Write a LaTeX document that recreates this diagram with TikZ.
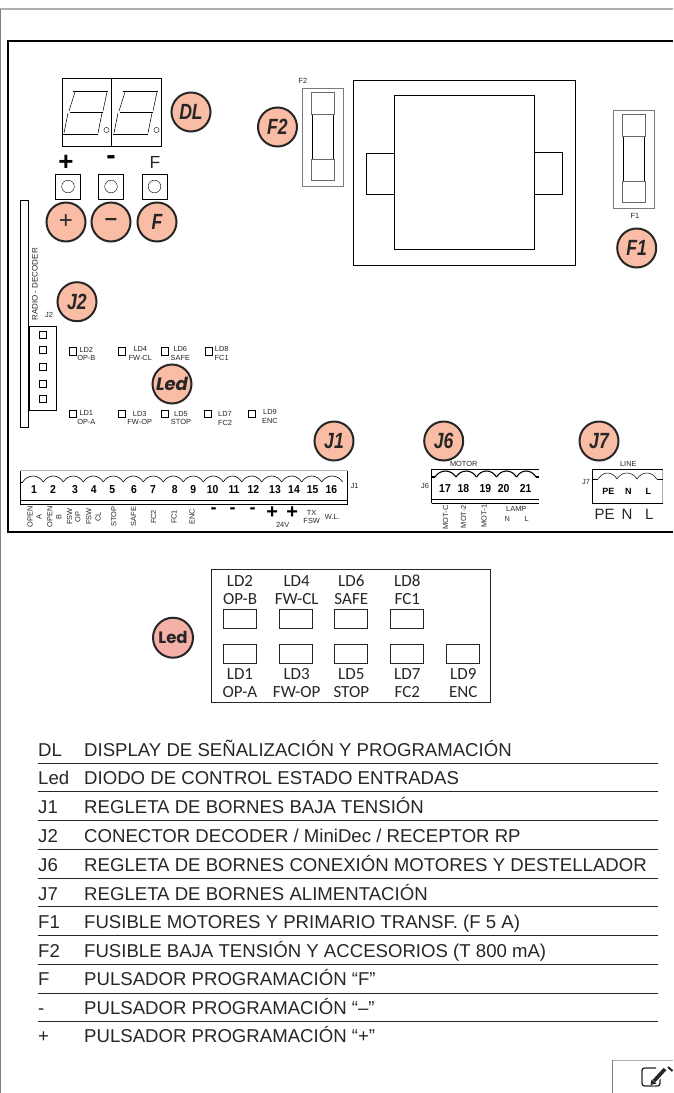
\documentclass[tikz,border=0pt]{standalone}
\usepackage{fontspec}
\usepackage{graphicx}
\setmainfont{Liberation Sans}
\newfontfamily\ledfont{Carlito}
\newfontfamily\badgefont{Poppins}
\definecolor{badge}{HTML}{F9BDA5}
\definecolor{badgeled}{HTML}{F5B0A8}
\definecolor{frameline}{HTML}{B0B0B0}
\definecolor{inkline}{HTML}{262626}
\tikzset{
  badgenode/.style={circle,draw=inkline,line width=2pt,fill=badge,minimum size=39pt,inner sep=0pt,text=inkline,font=\fontsize{22}{22}\selectfont\bfseries\itshape},
  tiny/.style={inner sep=0pt,text=inkline,text height=5.4pt,text depth=0pt,font=\fontsize{7.4}{7.4}\selectfont},
  pinnum/.style={inner sep=0pt,text=black,text height=8pt,text depth=0pt,font=\fontsize{11.5}{11.5}\selectfont\bfseries},
  signtxt/.style={inner sep=0pt,text=black},
  ledtxt/.style={inner sep=0pt,text=inkline,text height=11.5pt,text depth=0pt,font=\ledfont\fontsize{17}{17}\selectfont},
  rowtxt/.style={inner sep=0pt,anchor=base west,text=inkline,font=\fontsize{18.6}{18.6}\selectfont},
}
\newcommand{\badge}[4]{
\node[badgenode] (#1) at (#2,#3) {\scalebox{.8}[1]{#4}};
}
\newcommand{\lbl}[4]{
\node[tiny] (#1) at (#2,#3) {#4};
}
\newcommand{\vlbl}[4]{
\node[tiny,rotate=90] (#1) at (#2,#3) {#4};
}
\newcommand{\num}[3]{
\node[pinnum] (n#1) at (#2,#3) {\scalebox{.9}[1]{#1}};
}
\newcommand{\scal}[3]{
\draw (#1,#2) .. controls (#1+#3/4,#2-8) and (#1+3*#3/4,#2-8) .. (#1+#3,#2);
}
\newcommand{\fuse}[2]{
\draw[frameline!70!black,line width=.9pt] (#1,#2) rectangle (#1+41,#2+98);
\draw[line width=1pt] (#1+10,#2+26) rectangle (#1+31,#2+71.5);
\draw[frameline!60!black,line width=.8pt,fill=white] (#1+9,#2+4.5) rectangle (#1+32,#2+26);
\draw[frameline!60!black,line width=.8pt,fill=white] (#1+9,#2+71.5) rectangle (#1+32,#2+92.5);
}
\newcommand{\btn}[2]{
\draw[line width=.7pt] (#1-12.5,#2+12.5)--(#1-12.5,#2-12)--(#1+12.5,#2-12)--(#1+12.5,#2+12.5);
\draw[line width=.7pt] (#1-13,#2+12.5)--(#1+13,#2+12.5);
\draw[line width=.4pt] (#1,#2) circle (6.3);
}
\newcommand{\segs}[1]{
\draw[line width=.7pt] (#1+10,91)--(#1+45,91) (#1+7,112)--(#1+40,112) (#1,134)--(#1+35,134);
\draw[line width=.5pt] (#1+12,92)--(#1+6,111) (#1+5,113)--(#1+1,133) (#1+44,92)--(#1+40,111) (#1+39,113)--(#1+35,133);
\draw[line width=.4pt] (#1+43.5,130) circle (2.6);
}
\newcommand{\ledbox}[2]{
\draw[line width=.7pt,draw=inkline] (#1,#2) rectangle (#1+33,#2+19);
}
\newcommand{\ledpair}[5]{
\node[ledtxt] (#1a) at (#2,#3) {#4};
\node[ledtxt] (#1b) at (#2,#3+18.3) {#5};
}
\newcommand{\row}[4]{
\node[rowtxt] (#1k) at (38,#2) {#3};
\node[rowtxt] (#1t) at (84,#2) {#4};
}
\newcommand{\rowline}[1]{
\draw[line width=.8pt,inkline] (38,#1)--(658,#1);
}

\begin{document}
\begin{tikzpicture}[x=1pt,y=-1pt]
\useasboundingbox (0,0) rectangle (673,1093);

\draw[frameline,line width=1.3pt] (0,9)--(673,9);
\draw[gray,line width=1.4pt] (.7,9)--(.7,1093);
\draw[line width=2pt] (673,40.5)--(8,40.5)--(8,531.5)--(673,531.5);

\draw[line width=.8pt] (62.5,78.5) rectangle (161.5,146);
\draw[line width=.7pt] (111.5,78.5)--(111.5,146);
\segs{63}
\segs{113}

\node[signtxt,font=\fontsize{26}{26}\selectfont\bfseries] (plus) at (66,163) {+};
\node[signtxt,font=\fontsize{28}{28}\selectfont\bfseries] (minus) at (111,160) {-};
\node[signtxt,text=inkline,font=\fontsize{17.5}{17.5}\selectfont] (eff) at (155,162) {F};
\btn{68}{186.5}
\btn{111}{186.5}
\btn{154.5}{186.5}

\node[badgenode,font=\fontsize{24}{24}\selectfont] (bplus) at (66,222) {+};
\node[badgenode,font=\fontsize{22}{22}\selectfont\bfseries] (bminus) at (111,222) {–};
\badge{bf}{157}{222}{F}
\badge{dl}{191}{112}{DL}
\badge{ftwo}{277.5}{127}{F2}
\badge{jtwo}{77}{301.7}{J2}
\node[badgenode,font=\badgefont\fontsize{18}{18}\selectfont\bfseries\itshape] (led) at (172,384) {Led};
\badge{jone}{334}{441}{J1}
\badge{jsix}{443.7}{441}{J6}
\badge{jseven}{599}{441}{J7}
\badge{fone}{636.7}{248}{F1}

\fuse{302.5}{88}
\fuse{613.3}{110}
\lbl{lfone}{635}{216}{F1}
\lbl{lftwo}{303}{80.5}{F2}

\draw[line width=.9pt] (353.3,80.7) rectangle (575.3,265.3);
\draw[line width=.9pt] (394.3,95.3) rectangle (534.3,249.3);
\draw[line width=.9pt] (394.3,153.3)--(366.3,153.3)--(366.3,194.3)--(394.3,194.3);
\draw[line width=.9pt] (534.3,152.3)--(562.3,152.3)--(562.3,194.3)--(534.3,194.3);

\draw[line width=.8pt] (20,427.3)--(20,200.7)--(28.7,200.7)--(28.7,427.3);
\draw[line width=.8pt] (20,427.3)--(28.7,427.3);
\node[tiny,rotate=90,font=\fontsize{8}{8}\selectfont] (radio) at (35,284.4) {RADIO - DECODER};
\lbl{ljtwo}{49}{315}{J2}
\draw[line width=.8pt] (29.7,326.7) rectangle (56.3,410.3);
\draw[line width=.8pt] (39.5,331.5) rectangle (46.5,338.5);
\draw[line width=.8pt] (39.5,346.5) rectangle (46.5,353.5);
\draw[line width=.8pt] (39.5,363.5) rectangle (46.5,370.5);
\draw[line width=.8pt] (39.5,380.5) rectangle (46.5,387.5);
\draw[line width=.8pt] (39.5,395.8) rectangle (46.5,402.8);

\draw[line width=.8pt] (69,347.5) rectangle (76.5,355);
\draw[line width=.8pt] (118,347.5) rectangle (125.5,355);
\draw[line width=.8pt] (161,347.5) rectangle (168.5,355);
\draw[line width=.8pt] (205.3,347.5) rectangle (212.8,355);
\draw[line width=.8pt] (69,410) rectangle (76.5,417.5);
\draw[line width=.8pt] (118,410) rectangle (125.5,417.5);
\draw[line width=.8pt] (161,410) rectangle (168.5,417.5);
\draw[line width=.8pt] (204.3,410) rectangle (211.8,417.5);
\draw[line width=.8pt] (248.3,410) rectangle (255.8,417.5);

\lbl{ldtwo}{86.3}{349.3}{LD2}
\lbl{opb}{86.3}{358}{OP-B}
\lbl{ldfour}{140.3}{348.3}{LD4}
\lbl{fwcl}{140.3}{358}{FW-CL}
\lbl{ldsix}{180.3}{349}{LD6}
\lbl{safe}{180.3}{358}{SAFE}
\lbl{ldeight}{221.7}{348.3}{LD8}
\lbl{fcone}{221.7}{357.3}{FC1}
\lbl{ldone}{86.3}{412.3}{LD1}
\lbl{opa}{86.3}{421.3}{OP-A}
\lbl{ldthree}{139.7}{413.3}{LD3}
\lbl{fwop}{139.7}{422}{FW-OP}
\lbl{ldfive}{181}{413.3}{LD5}
\lbl{stop}{181}{421.7}{STOP}
\lbl{ldseven}{225}{413.3}{LD7}
\lbl{fctwo}{225}{422.3}{FC2}
\lbl{ldnine}{270}{412}{LD9}
\lbl{enc}{270}{421}{ENC}

\draw[frameline,line width=1.2pt] (20.7,470.7)--(347.3,470.7);
\draw[line width=.7pt] (20.7,470.7)--(20.7,504.3)--(347.3,504.3)--(347.3,470.7);
\draw[line width=.7pt] (20.7,500)--(347.3,500);
\begin{scope}[line width=.6pt]
\draw (20.7,482)--(22.7,482);
\scal{22.7}{482}{20.6}
\scal{43.3}{482}{20}
\scal{63.3}{482}{20}
\scal{83.3}{482}{20}
\scal{103.3}{482}{20}
\scal{123.3}{482}{20}
\scal{143.3}{482}{20}
\scal{163.3}{482}{20}
\scal{183.3}{482}{20}
\scal{203.3}{482}{20}
\scal{223.3}{482}{18.4}
\scal{241.7}{482}{20}
\scal{261.7}{482}{20}
\scal{281.7}{482}{20}
\scal{301.7}{482}{20}
\scal{321.7}{482}{21}
\end{scope}
\num{1}{34}{489}
\num{2}{53}{489}
\num{3}{75}{489}
\num{4}{93.7}{489}
\num{5}{112.3}{489}
\num{6}{134}{489}
\num{7}{153}{489}
\num{8}{174.7}{489}
\num{9}{193.3}{489}
\num{10}{212.7}{489}
\num{11}{234}{489}
\num{12}{253.3}{489}
\num{13}{275}{489}
\num{14}{294}{489}
\num{15}{312.7}{489}
\num{16}{331.3}{489}
\lbl{ljone}{354.7}{486}{J1}

\vlbl{opena}{30}{516.7}{OPEN}
\vlbl{aa}{39}{516.7}{A}
\vlbl{openb}{49.7}{516.7}{OPEN}
\vlbl{bb}{58.7}{516.7}{B}
\vlbl{fswa}{69.3}{516.7}{FSW}
\vlbl{op}{77.7}{516.7}{OP}
\vlbl{fswb}{88.7}{516.7}{FSW}
\vlbl{cl}{98}{516.7}{CL}
\vlbl{vstop}{113.7}{516.7}{STOP}
\vlbl{vsafe}{133.3}{516.7}{SAFE}
\vlbl{vfctwo}{153.3}{517}{FC2}
\vlbl{vfcone}{174}{517}{FC1}
\vlbl{venc}{192}{517}{ENC}
\node[signtxt,font=\fontsize{18}{18}\selectfont\bfseries] (ma) at (213.7,510.7) {-};
\node[signtxt,font=\fontsize{18}{18}\selectfont\bfseries] (mb) at (232.7,510.7) {-};
\node[signtxt,font=\fontsize{18}{18}\selectfont\bfseries] (mc) at (252.7,510.7) {-};
\node[signtxt,font=\fontsize{20}{20}\selectfont\bfseries] (pa) at (272.3,512.2) {+};
\node[signtxt,font=\fontsize{20}{20}\selectfont\bfseries] (pb) at (292.3,512.2) {+};
\lbl{vtf}{282.7}{524.5}{24V}
\lbl{tx}{311.7}{512.3}{TX}
\lbl{fsw}{311.7}{520.7}{FSW}
\lbl{wl}{332.3}{517}{W.L.}

\draw[line width=.8pt] (431.7,503.3)--(431.7,469.3)--(539.3,469.3) (431.7,503.3)--(539.3,503.3) (431.7,499)--(539.3,499);
\begin{scope}[line width=1.1pt]
\draw (431.7,477)--(435,477) (536,477)--(539.3,477);
\scal{435}{477}{21}
\scal{456}{477}{20.5}
\scal{476.5}{477}{20}
\scal{496.5}{477}{20}
\scal{516.5}{477}{19.5}
\end{scope}
\num{17}{445}{488.7}
\num{18}{463.3}{488.7}
\num{19}{485.3}{488.7}
\num{20}{503.7}{488.7}
\num{21}{525.7}{488.7}
\lbl{motor}{463.7}{463.3}{MOTOR}
\lbl{ljsix}{425}{485.3}{J6}
\vlbl{motc}{445.3}{517.3}{MOT-C}
\vlbl{mottwo}{463.3}{516.7}{MOT-2}
\vlbl{motone}{484}{516}{MOT-1}
\lbl{lamp}{516.3}{509}{LAMP}
\lbl{lampn}{507.3}{518.3}{N}
\lbl{lampl}{526.7}{518.3}{L}

\draw[line width=.8pt] (592.3,503.3)--(592.3,469.7)--(662.7,469.7) (592.3,503.3)--(662.7,503.3);
\draw[frameline,line width=.8pt] (662.7,469.7)--(662.7,503.3);
\begin{scope}[line width=.5pt]
\draw (592.3,479)--(598.3,479) (656.7,479)--(662.7,479);
\scal{598.3}{479}{18.7}
\scal{617}{479}{20}
\scal{637}{479}{19.7}
\end{scope}
\lbl{line}{628.3}{463.3}{LINE}
\lbl{ljseven}{586}{481.7}{J7}
\node[signtxt,font=\fontsize{9}{9}\selectfont\bfseries] (pe) at (608.3,491) {PE};
\node[signtxt,font=\fontsize{9}{9}\selectfont\bfseries] (ne) at (628.3,491) {N};
\node[signtxt,font=\fontsize{9}{9}\selectfont\bfseries] (li) at (648.3,491) {L};
\node[signtxt,text=inkline,font=\fontsize{15}{15}\selectfont] (bpe) at (604.7,514) {PE};
\node[signtxt,text=inkline,font=\fontsize{15}{15}\selectfont] (bne) at (627,514) {N};
\node[signtxt,text=inkline,font=\fontsize{15}{15}\selectfont] (bli) at (649.3,514) {L};

\draw[line width=.8pt,draw=inkline] (211,569) rectangle (490,702.7);
\ledbox{223.3}{609}
\ledbox{279.3}{609}
\ledbox{334.3}{609}
\ledbox{390.3}{609}
\ledbox{223.3}{644.3}
\ledbox{279.3}{644.3}
\ledbox{334.3}{644.3}
\ledbox{390.3}{644.3}
\ledbox{446.3}{644.3}
\ledpair{ta}{240}{580.7}{LD2}{OP-B}
\ledpair{tb}{296.7}{580.7}{LD4}{FW-CL}
\ledpair{tc}{351.3}{580.7}{LD6}{SAFE}
\ledpair{td}{407.3}{580.7}{LD8}{FC1}
\ledpair{ua}{240}{673.3}{LD1}{OP-A}
\ledpair{ub}{296.7}{673.3}{LD3}{FW-OP}
\ledpair{uc}{351.3}{673.3}{LD5}{STOP}
\ledpair{ud}{407.3}{673.3}{LD7}{FC2}
\ledpair{ue}{463.3}{673.3}{LD9}{ENC}
\node[badgenode,fill=badgeled,minimum size=40pt,font=\badgefont\fontsize{16.5}{16.5}\selectfont\bfseries] (ledb) at (173,637.7) {Led};

\row{a}{756}{DL}{DISPLAY DE SEÑALIZACIÓN Y PROGRAMACIÓN}
\rowline{763.5}
\row{b}{784.5}{Led}{DIODO DE CONTROL ESTADO ENTRADAS}
\rowline{791}
\row{c}{813}{J1}{REGLETA DE BORNES BAJA TENSIÓN}
\rowline{820}
\row{d}{842}{J2}{CONECTOR DECODER / MiniDec / RECEPTOR RP}
\rowline{849}
\row{e}{871.3}{J6}{REGLETA DE BORNES CONEXIÓN MOTORES Y DESTELLADOR}
\rowline{878.3}
\row{f}{900}{J7}{REGLETA DE BORNES ALIMENTACIÓN}
\rowline{906}
\row{g}{928.7}{F1}{FUSIBLE MOTORES Y PRIMARIO TRANSF. (F 5 A)}
\rowline{935}
\row{h}{957.3}{F2}{FUSIBLE BAJA TENSIÓN Y ACCESORIOS (T 800 mA)}
\rowline{964}
\row{i}{985.3}{F}{PULSADOR PROGRAMACIÓN “F”}
\rowline{993.3}
\row{j}{1014}{-}{PULSADOR PROGRAMACIÓN “–”}
\rowline{1021.3}
\row{k}{1042.7}{+}{PULSADOR PROGRAMACIÓN “+”}

\draw[gray,line width=.7pt] (612.5,1093)--(612.5,1060);
\draw[frameline,line width=1pt] (612.5,1060)--(673,1060);
\draw[line width=1.3pt,inkline,rounded corners=2.5pt] (656,1068)--(642,1068)--(642,1086)--(660,1086)--(660,1076);
\draw[line width=5.5pt,white] (652,1084)--(666,1068);
\draw[line width=3.6pt,inkline] (654,1081)--(665,1069);
\fill[inkline] (650.5,1085)--(651.5,1079.5)--(656.5,1083.5)--cycle;
\draw[line width=2pt,inkline] (668,1067)--(672.5,1071);
\end{tikzpicture}
\end{document}
